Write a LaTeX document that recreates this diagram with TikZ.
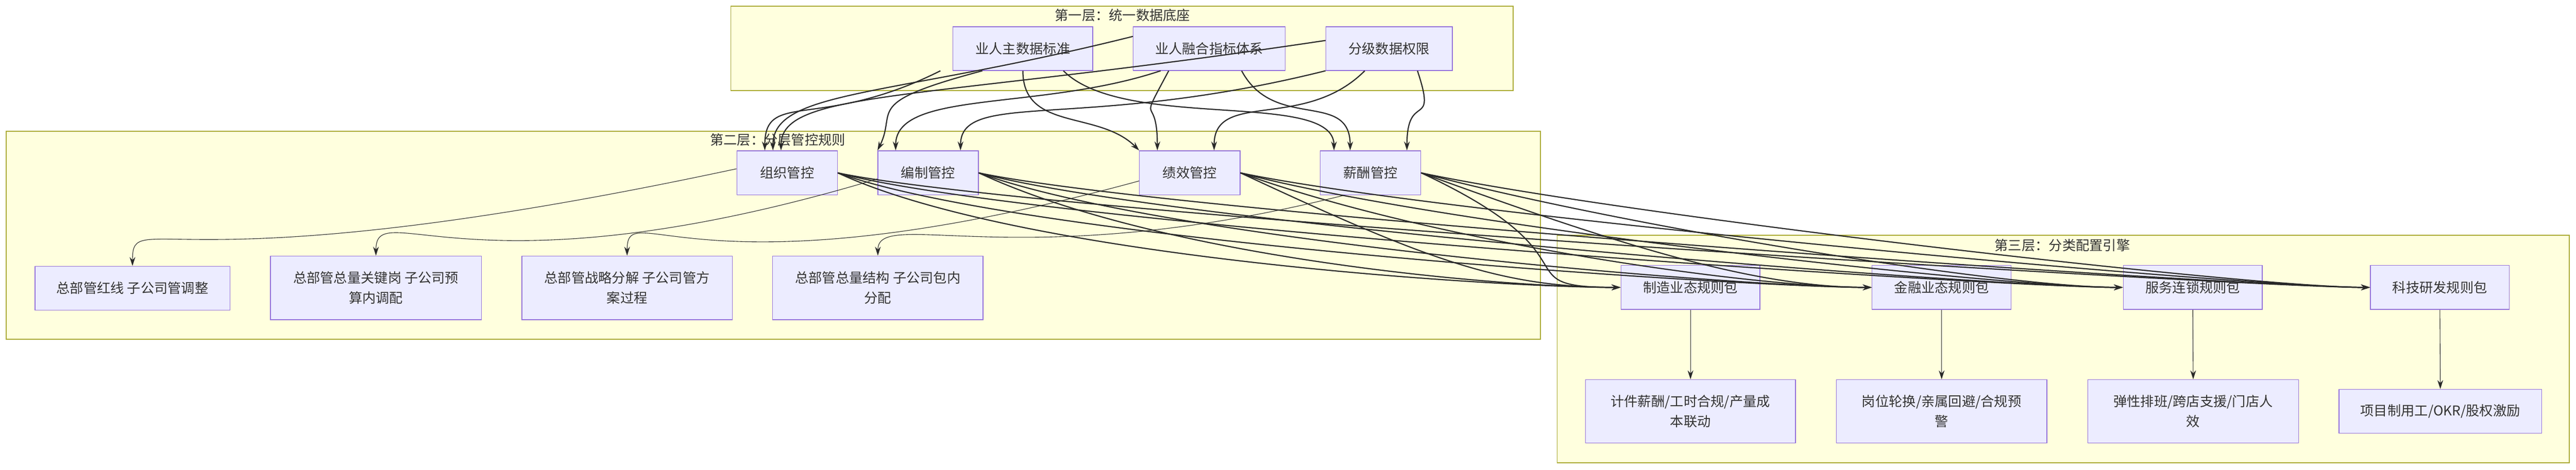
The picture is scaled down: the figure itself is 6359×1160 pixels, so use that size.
\documentclass[tikz,border=0pt]{standalone}
\usepackage{fontspec}
\setmainfont{Noto Sans CJK SC}
\usetikzlibrary{arrows.meta}
\definecolor{nodefill}{HTML}{ECECFF}
\definecolor{nodeline}{HTML}{9370DB}
\definecolor{clfill}{HTML}{FFFFDE}
\definecolor{clline}{HTML}{AAAA33}
\definecolor{txt}{HTML}{333333}
\begin{document}
\begin{tikzpicture}[x=0.01cm,y=-0.01cm,
  box/.style={draw=nodeline,fill=nodefill,line width=0.5pt,align=center,text=txt,font=\fontsize{9.5}{14}\selectfont,inner sep=0pt},
  cl/.style={draw=clline,fill=clfill,line width=0.6pt},
  cltitle/.style={text=txt,font=\fontsize{9.5}{12}\selectfont,inner sep=0pt},
  e/.style={draw=txt!80!black,line width=0.8pt,-{Stealth[length=0.22cm,width=0.14cm]}},
  et/.style={e,line width=0.4pt}]
\useasboundingbox (0,0) rectangle (6359,1160);
\fill[white] (0,0) rectangle (6359,1160);
% clusters
\draw[cl] (1804,15) rectangle (3735,224);
\draw[cl] (15,324) rectangle (3803,838);
\draw[cl] (3844,581) rectangle (6342,1143);
\node[cltitle] (t1) at (2771,37) {第一层：统一数据底座};
\node[cltitle] (t2) at (1920,346) {第二层：分层管控规则};
\node[cltitle] (t3) at (5091,606) {第三层：分类配置引擎};
% layer 1
\node[box,minimum width=3.45cm,minimum height=1.08cm] (a1) at (2525,120) {业人主数据标准};
\node[box,minimum width=3.75cm,minimum height=1.08cm] (a2) at (2985,120) {业人融合指标体系};
\node[box,minimum width=3.12cm,minimum height=1.08cm] (a3) at (3429,120) {分级数据权限};
% layer 2
\node[box,minimum width=2.48cm,minimum height=1.09cm] (b1) at (1943,427) {组织管控};
\node[box,minimum width=2.48cm,minimum height=1.09cm] (b2) at (2291,427) {编制管控};
\node[box,minimum width=2.48cm,minimum height=1.09cm] (b3) at (2937,427) {绩效管控};
\node[box,minimum width=2.48cm,minimum height=1.09cm] (b4) at (3383,427) {薪酬管控};
\node[box,minimum width=4.81cm,minimum height=1.08cm] (c1) at (327,712) {总部管红线 子公司管调整};
\node[box,minimum width=5.2cm,minimum height=1.57cm] (c2) at (928,711) {总部管总量关键岗 子公司预\\算内调配};
\node[box,minimum width=5.19cm,minimum height=1.57cm] (c3) at (1548,711) {总部管战略分解 子公司管方\\案过程};
\node[box,minimum width=5.19cm,minimum height=1.57cm] (c4) at (2167,711) {总部管总量结构 子公司包内\\分配};
% layer 3
\node[box,minimum width=3.43cm,minimum height=1.09cm] (p1) at (4173,710) {制造业态规则包};
\node[box,minimum width=3.43cm,minimum height=1.09cm] (p2) at (4793,710) {金融业态规则包};
\node[box,minimum width=3.43cm,minimum height=1.09cm] (p3) at (5413,710) {服务连锁规则包};
\node[box,minimum width=3.43cm,minimum height=1.09cm] (p4) at (6023,710) {科技研发规则包};
\node[box,minimum width=5.18cm,minimum height=1.56cm] (d1) at (4173,1016) {计件薪酬/工时合规/产量成\\本联动};
\node[box,minimum width=5.19cm,minimum height=1.56cm] (d2) at (4793,1016) {岗位轮换/亲属回避/合规预\\警};
\node[box,minimum width=5.2cm,minimum height=1.56cm] (d3) at (5414,1016) {弹性排班/跨店支援/门店人\\效};
\node[box,minimum width=5.0cm,minimum height=1.08cm] (d4) at (6024,1016) {项目制用工/OKR/股权激励};
% layer1 -> layer2
\draw[e] ([xshift=-0.3cm]a1.south west) .. controls +(-3cm,-1.5cm) and +(0,1.5cm) .. ([xshift=-0.55cm]b1.north);
\draw[e] (a1.south) .. controls +(0,-1.5cm) and +(-1cm,1cm) .. (b3.north west);
\draw[e] ([xshift=-1cm]a1.south) .. controls +(-3cm,-0.8cm) and +(0.5cm,1cm) .. (b2.north west);
\draw[e] ([xshift=1cm]a1.south) .. controls +(1.5cm,-1.5cm) and +(0,1.5cm) .. ([xshift=-0.9cm]b4.north);
\draw[e] ([yshift=0.3cm]a2.west) .. controls +(-6cm,-1.5cm) and +(0,1.5cm) .. ([xshift=-0.35cm]b1.north);
\draw[e] ([xshift=-1.2cm]a2.south) .. controls +(-3cm,-1cm) and +(0,1.5cm) .. ([xshift=-0.8cm]b2.north);
\draw[e] ([xshift=-1cm]a2.south) .. controls +(-0.8cm,-1.5cm) and +(0,1.5cm) .. ([xshift=-0.8cm]b3.north);
\draw[e] ([xshift=0.8cm]a2.south) .. controls +(0.8cm,-1.5cm) and +(0,1.5cm) .. ([xshift=-0.5cm]b4.north);
\draw[e] ([yshift=0.2cm]a3.west) .. controls +(-10cm,-1.5cm) and +(0,1.5cm) .. ([xshift=-0.15cm]b1.north);
\draw[e] (a3.south west) .. controls +(-6cm,-1.5cm) and +(0,1.5cm) .. ([xshift=0.8cm]b2.north);
\draw[e] ([xshift=-0.6cm]a3.south) .. controls +(-1.5cm,-1.5cm) and +(0,1.5cm) .. ([xshift=0.6cm]b3.north);
\draw[e] ([xshift=0.7cm]a3.south) .. controls +(0.5cm,-1.5cm) and +(0,1.5cm) .. ([xshift=0.9cm]b4.north);
% layer2 -> details
\draw[et] ([yshift=0.1cm]b1.west) .. controls +(-14cm,-3cm) and +(0,1.5cm) .. (c1.north);
\draw[et] ([yshift=-0.15cm]b2.west) .. controls +(-10cm,-3cm) and +(0,1.5cm) .. (c2.north);
\draw[et] ([yshift=-0.2cm]b3.west) .. controls +(-11cm,-3cm) and +(0,1.5cm) .. (c3.north);
\draw[et] ([xshift=0.6cm]b4.south west) .. controls +(-8cm,-2cm) and +(0,1.2cm) .. (c4.north);
% layer2 -> layer3
\foreach \s in {b1,b2,b3,b4}{
  \foreach \t/\o in {p1/-25,p2/-20,p3/-15,p4/-12}{
    \draw[e] (\s.east) .. controls +(\o:5cm) and +(-3cm,0) .. (\t.west);
  }
}
% layer3 -> details
\draw[et] (p1.south) -- (d1.north);
\draw[et] (p2.south) -- (d2.north);
\draw[et] (p3.south) -- (d3.north);
\draw[et] (p4.south) -- (d4.north);
\end{tikzpicture}
\end{document}
